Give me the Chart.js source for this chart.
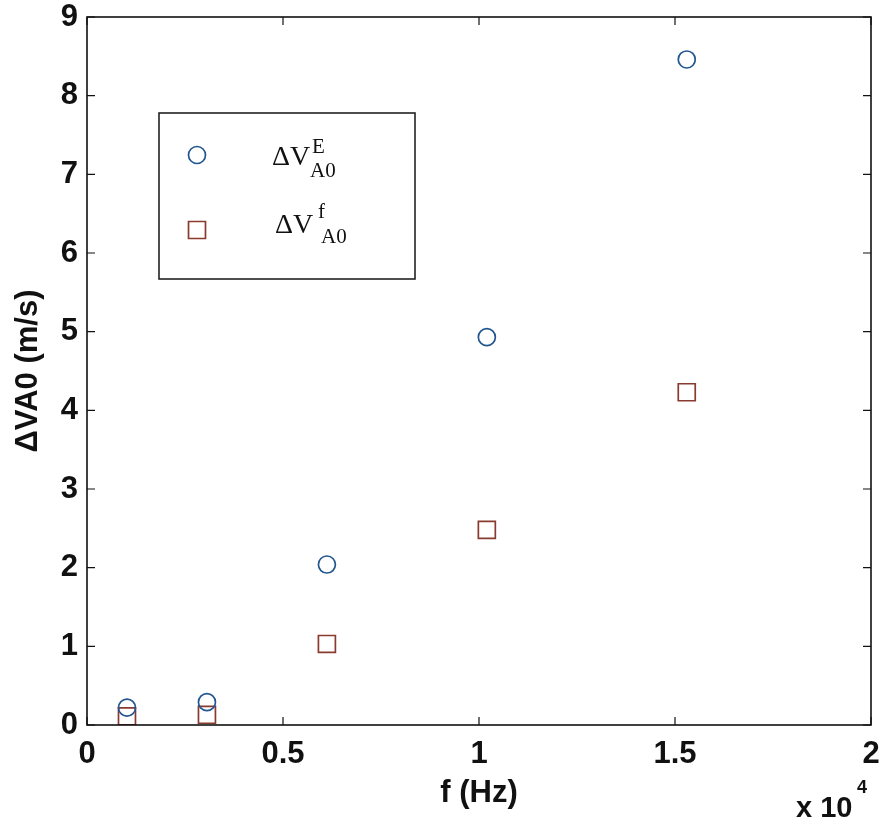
<!DOCTYPE html>
<html>
<head>
<meta charset="utf-8">
<script src="https://cdn.jsdelivr.net/npm/chart.js@4.4.0/dist/chart.umd.min.js"></script>
<style>
  html, body { margin: 0; padding: 0; background: #fff; }
  #wrap { width: 880px; height: 824px; position: relative; }
</style>
</head>
<body>
<div id="wrap"><canvas id="chart"></canvas></div>
<script>
// frequency (Hz) and measured speed changes (m/s)
const freqs = [1020, 3060, 6120, 10200, 15300];
const dvE = [0.22, 0.29, 2.04, 4.93, 8.46];
const dvF = [0.11, 0.13, 1.03, 2.48, 4.23];
const xTicks = [0, 5000, 10000, 15000, 20000];
const yTicks = [0, 1, 2, 3, 4, 5, 6, 7, 8, 9];

const circleColor = '#22568f';
const squareColor = '#8a3b30';
const sans = '"Liberation Sans", Arial, sans-serif';
const serif = '"Liberation Serif", "DejaVu Serif", serif';
const tickFont = { family: sans, size: 31, weight: 'bold' };

const toPoints = (ys) => freqs.map((x, i) => ({ x, y: ys[i] }));

// MATLAB style frame with inward ticks on every side
const framePlugin = {
  id: 'frame',
  afterDatasetsDraw(chart) {
    const { ctx, chartArea: a, scales } = chart;
    ctx.save();
    ctx.strokeStyle = '#111';
    ctx.lineWidth = 1.6;
    ctx.strokeRect(a.left, a.top, a.right - a.left, a.bottom - a.top);
    ctx.lineWidth = 1.2;
    const len = 8;
    ctx.beginPath();
    xTicks.forEach((v) => {
      const px = scales.x.getPixelForValue(v);
      ctx.moveTo(px, a.bottom); ctx.lineTo(px, a.bottom - len);
      ctx.moveTo(px, a.top); ctx.lineTo(px, a.top + len);
    });
    yTicks.forEach((v) => {
      const py = scales.y.getPixelForValue(v);
      ctx.moveTo(a.left, py); ctx.lineTo(a.left + len, py);
      ctx.moveTo(a.right, py); ctx.lineTo(a.right - len, py);
    });
    ctx.stroke();

    // exponent label under the x axis
    ctx.fillStyle = '#111';
    ctx.font = `bold 29px ${sans}`;
    ctx.textBaseline = 'alphabetic';
    ctx.textAlign = 'left';
    ctx.fillText('x 10', 796, 817);
    ctx.font = `bold 18px ${sans}`;
    ctx.fillText('4', 857, 793);
    ctx.restore();
  },
};

// boxed legend with sub/superscripts
const legendPlugin = {
  id: 'boxLegend',
  afterDraw(chart) {
    const { ctx } = chart;
    ctx.save();
    ctx.fillStyle = '#fff';
    ctx.fillRect(159, 113, 256, 166);
    ctx.strokeStyle = '#222';
    ctx.lineWidth = 1.6;
    ctx.strokeRect(159, 113, 256, 166);

    const rows = [
      { ds: 0, y: 155, sup: 'E', base: 165, supX: 312, supY: 153, subX: 310, subY: 177, x: 272 },
      { ds: 1, y: 230, sup: 'f', base: 233, supX: 318, supY: 218, subX: 321, subY: 243, x: 275 },
    ];
    rows.forEach((r) => {
      const d = chart.data.datasets[r.ds];
      ctx.fillStyle = 'rgba(0,0,0,0)';
      ctx.strokeStyle = d.borderColor;
      ctx.lineWidth = d.borderWidth;
      Chart.helpers.drawPoint(ctx, {
        pointStyle: d.pointStyle, radius: d.pointRadius,
        borderWidth: d.borderWidth, rotation: 0,
      }, 197, r.y);
      ctx.fillStyle = '#111';
      ctx.textAlign = 'left';
      ctx.textBaseline = 'alphabetic';
      ctx.font = `28px ${serif}`;
      ctx.fillText('\u0394V', r.x, r.base);
      ctx.font = `21px ${serif}`;
      ctx.fillText(r.sup, r.supX, r.supY);
      ctx.fillText('A0', r.subX, r.subY);
    });
    ctx.restore();
  },
};

new Chart(document.getElementById('chart'), {
  type: 'scatter',
  data: {
    datasets: [
      {
        label: 'dVE',
        data: toPoints(dvE),
        pointStyle: 'circle',
        pointRadius: 8.5,
        borderWidth: 1.7,
        borderColor: circleColor,
        backgroundColor: 'rgba(0,0,0,0)',
      },
      {
        label: 'dVf',
        data: toPoints(dvF),
        pointStyle: 'rect',
        pointRadius: 12,
        borderWidth: 1.7,
        borderColor: squareColor,
        backgroundColor: 'rgba(0,0,0,0)',
      },
    ],
  },
  options: {
    responsive: true,
    maintainAspectRatio: false,
    animation: false,
    layout: { autoPadding: false, padding: { top: 17, right: 9, left: 0, bottom: 0 } },
    scales: {
      x: {
        type: 'linear',
        min: 0,
        max: 20000,
        afterFit: (s) => { s.height = 99; s.paddingLeft = 0; s.paddingRight = 0; },
        afterBuildTicks: (s) => { s.ticks = xTicks.map((v) => ({ value: v })); },
        grid: { display: false, drawTicks: false },
        border: { display: false },
        ticks: {
          color: '#111',
          font: tickFont,
          padding: 11,
          maxRotation: 0,
          callback: (v) => String(v / 10000),
        },
        title: {
          display: true,
          text: 'f (Hz)',
          color: '#111',
          font: { family: sans, size: 31, weight: 'bold' },
          padding: { top: 0, bottom: 12 },
        },
      },
      y: {
        type: 'linear',
        min: 0,
        max: 9,
        afterFit: (s) => { s.width = 87; s.paddingTop = 0; s.paddingBottom = 0; },
        afterBuildTicks: (s) => { s.ticks = yTicks.map((v) => ({ value: v })); },
        grid: { display: false, drawTicks: false },
        border: { display: false },
        ticks: {
          color: '#111',
          font: tickFont,
          padding: 9,
        },
        title: {
          display: true,
          text: '\u0394VA0 (m/s)',
          color: '#111',
          font: { family: sans, size: 31, weight: 'bold' },
          padding: { top: 10, bottom: 0 },
        },
      },
    },
    plugins: {
      legend: { display: false },
      tooltip: { enabled: false },
    },
  },
  plugins: [framePlugin, legendPlugin],
});
</script>
</body>
</html>
